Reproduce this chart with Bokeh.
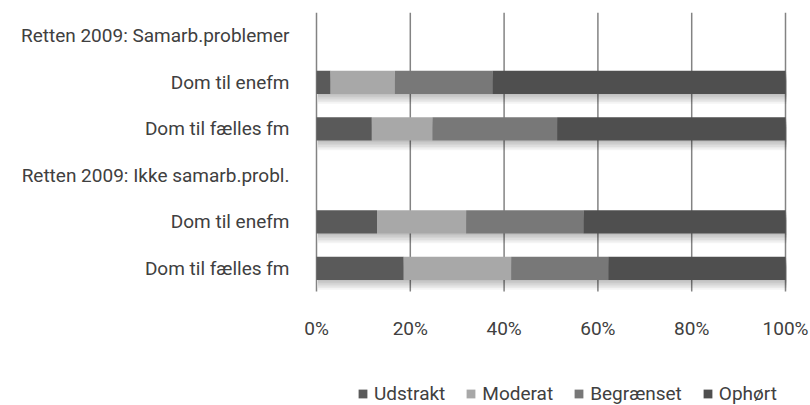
from bokeh.plotting import figure
from bokeh.models import (ColumnDataSource, FixedTicker, Legend, LegendItem)
from bokeh.core.properties import value
from bokeh.embed import file_html
from bokeh.resources import INLINE

# ---- data (top to bottom as displayed) ----
labels = ["Retten 2009: Samarb.problemer", "Dom til enefm", "Dom til fælles fm",
          "Retten 2009: Ikke samarb.probl.", "Dom til enefm", "Dom til fælles fm"]
udstrakt = [0, 3.0, 11.8, 0, 12.9, 18.6]
moderat = [0, 13.7, 12.9, 0, 19.0, 22.9]
begraenset = [0, 20.8, 26.6, 0, 25.0, 20.7]
ophort = [0, 62.5, 48.7, 0, 43.1, 37.8]
series_names = ["Udstrakt", "Moderat", "Begrænset", "Ophørt"]
series_colors = ["#5a5a5a", "#a8a8a8", "#787878", "#4f4f4f"]
x_ticks = [0, 20, 40, 60, 80, 100]
x_tick_labels = ["0%", "20%", "40%", "60%", "80%", "100%"]

FONT = "Roboto"
TXT = "#404040"

n = len(labels)
ypos = [n - 1 - i for i in range(n)]

# layout constants (pixels)
ROW_PX = 46.5            # height of one category row
BOTTOM_EXTRA = 114       # space below the bar area, kept inside the frame
X_PX = 4.69              # pixels per percent
LEFT_EXTRA = 20          # frame extends this far left of 0%
RIGHT_EXTRA = 25         # frame extends this far right of 100%
y_lo = -0.5 - BOTTOM_EXTRA / ROW_PX
y_hi = n - 0.5
x_lo = -LEFT_EXTRA / X_PX
x_hi = 100 + RIGHT_EXTRA / X_PX

p = figure(width=810, height=405, output_backend="svg", toolbar_location=None,
           x_range=(x_lo, x_hi), y_range=(y_lo, y_hi),
           min_border_left=316 - LEFT_EXTRA, min_border_right=0, min_border_top=12,
           min_border_bottom=0)
p.outline_line_color = None
p.background_fill_color = "white"
p.border_fill_color = "white"
p.xaxis.visible = False
p.xgrid.grid_line_color = None
p.ygrid.grid_line_color = None

# vertical gridlines limited to the bar area
p.segment(x0=x_ticks, x1=x_ticks, y0=[-0.5] * len(x_ticks), y1=[y_hi] * len(x_ticks),
          line_color="#838383", line_width=1.5)

# shadows under bars
totals = [a + b + c + d for a, b, c, d in zip(udstrakt, moderat, begraenset, ophort)]
sh_y = [y for y, t in zip(ypos, totals) if t > 0]
sh_r = [t for t in totals if t > 0]
for k in range(1, 7):
    p.hbar(y=[y - 0.035 * k for y in sh_y], height=0.5, left=0.3, right=[r + 0.3 for r in sh_r],
           fill_color="black", fill_alpha=0.045, line_color=None)

src = ColumnDataSource(dict(y=ypos, u=udstrakt, m=moderat, b=begraenset, o=ophort))
renderers = p.hbar_stack(["u", "m", "b", "o"], y="y", height=0.5, color=series_colors,
                         line_color=None, source=src)

# x tick labels
lab_y = -0.5 - 36.5 / ROW_PX
p.text(x=x_ticks, y=[lab_y] * len(x_ticks), text=x_tick_labels,
       text_font=value(FONT), text_font_size="19px", text_color=TXT,
       text_align="center", text_baseline="middle")

# y axis (category labels)
p.yaxis.ticker = FixedTicker(ticks=ypos)
p.yaxis.major_label_overrides = {y: lab for y, lab in zip(ypos, labels)}
p.yaxis.axis_line_color = None
p.yaxis.major_tick_line_color = None
p.yaxis.minor_tick_line_color = None
p.yaxis.major_label_standoff = 1
p.yaxis.major_label_text_font = FONT
p.yaxis.major_label_text_font_size = "19px"
p.yaxis.major_label_text_color = TXT

legend = Legend(items=[LegendItem(label=nm, renderers=[r]) for nm, r in zip(series_names, renderers)],
                orientation="horizontal", location=(41 + LEFT_EXTRA, 0),
                padding=0, margin=0, spacing=20, label_standoff=6,
                glyph_width=11, glyph_height=11,
                border_line_color=None, background_fill_alpha=0,
                label_text_font=FONT, label_text_font_size="19px",
                label_text_color=TXT)
p.add_layout(legend, "center")

open("out.html", "w").write(file_html(p, INLINE))
